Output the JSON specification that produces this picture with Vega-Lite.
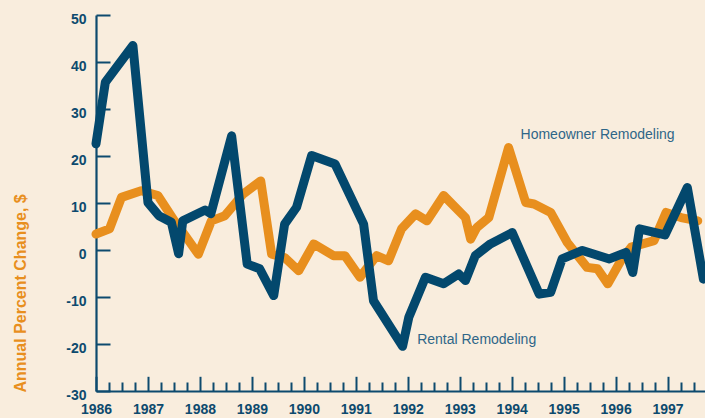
{
  "$schema": "https://vega.github.io/schema/vega-lite/v6.json",
  "width": 609,
  "height": 376,
  "autosize": {"type": "none"},
  "padding": {"left": 96, "top": 15, "right": 0, "bottom": 27},
  "background": "#f9eddd",
  "config": {"view": {"stroke": null}, "font": "Liberation Sans, Arial, sans-serif"},
  "data": {
    "values": [
      {"series": "Homeowner", "t": 1986.0, "v": 3.4},
      {"series": "Homeowner", "t": 1986.26, "v": 4.5},
      {"series": "Homeowner", "t": 1986.49, "v": 11.2},
      {"series": "Homeowner", "t": 1986.87, "v": 12.6},
      {"series": "Homeowner", "t": 1987.19, "v": 11.6},
      {"series": "Homeowner", "t": 1987.51, "v": 6.2},
      {"series": "Homeowner", "t": 1987.74, "v": 2.7},
      {"series": "Homeowner", "t": 1987.97, "v": -0.9},
      {"series": "Homeowner", "t": 1988.22, "v": 6.2},
      {"series": "Homeowner", "t": 1988.48, "v": 7.3},
      {"series": "Homeowner", "t": 1988.83, "v": 11.9},
      {"series": "Homeowner", "t": 1989.17, "v": 14.7},
      {"series": "Homeowner", "t": 1989.38, "v": -0.9},
      {"series": "Homeowner", "t": 1989.63, "v": -1.6},
      {"series": "Homeowner", "t": 1989.9, "v": -4.4},
      {"series": "Homeowner", "t": 1990.19, "v": 1.3},
      {"series": "Homeowner", "t": 1990.57, "v": -1.2},
      {"series": "Homeowner", "t": 1990.79, "v": -1.2},
      {"series": "Homeowner", "t": 1991.08, "v": -5.8},
      {"series": "Homeowner", "t": 1991.4, "v": -1.2},
      {"series": "Homeowner", "t": 1991.63, "v": -2.3},
      {"series": "Homeowner", "t": 1991.88, "v": 4.5},
      {"series": "Homeowner", "t": 1992.15, "v": 7.7},
      {"series": "Homeowner", "t": 1992.37, "v": 6.2},
      {"series": "Homeowner", "t": 1992.69, "v": 11.6},
      {"series": "Homeowner", "t": 1993.11, "v": 6.9},
      {"series": "Homeowner", "t": 1993.21, "v": 2.3},
      {"series": "Homeowner", "t": 1993.33, "v": 4.8},
      {"series": "Homeowner", "t": 1993.56, "v": 6.9},
      {"series": "Homeowner", "t": 1993.94, "v": 21.8},
      {"series": "Homeowner", "t": 1994.27, "v": 10.1},
      {"series": "Homeowner", "t": 1994.43, "v": 9.8},
      {"series": "Homeowner", "t": 1994.75, "v": 8.0},
      {"series": "Homeowner", "t": 1995.07, "v": 1.6},
      {"series": "Homeowner", "t": 1995.45, "v": -3.7},
      {"series": "Homeowner", "t": 1995.65, "v": -4.0},
      {"series": "Homeowner", "t": 1995.85, "v": -7.2},
      {"series": "Homeowner", "t": 1996.1, "v": -2.3},
      {"series": "Homeowner", "t": 1996.3, "v": 0.6},
      {"series": "Homeowner", "t": 1996.74, "v": 2.0},
      {"series": "Homeowner", "t": 1996.97, "v": 8.0},
      {"series": "Homeowner", "t": 1997.26, "v": 6.9},
      {"series": "Homeowner", "t": 1997.58, "v": 6.2},
      {"series": "Rental", "t": 1986.0, "v": 22.6},
      {"series": "Rental", "t": 1986.18, "v": 35.7},
      {"series": "Rental", "t": 1986.71, "v": 43.5},
      {"series": "Rental", "t": 1987.0, "v": 10.1},
      {"series": "Rental", "t": 1987.21, "v": 7.3},
      {"series": "Rental", "t": 1987.45, "v": 5.9},
      {"series": "Rental", "t": 1987.59, "v": -0.8},
      {"series": "Rental", "t": 1987.67, "v": 6.2},
      {"series": "Rental", "t": 1988.1, "v": 8.5},
      {"series": "Rental", "t": 1988.21, "v": 7.7},
      {"series": "Rental", "t": 1988.61, "v": 24.3},
      {"series": "Rental", "t": 1988.91, "v": -3.0},
      {"series": "Rental", "t": 1989.15, "v": -4.0},
      {"series": "Rental", "t": 1989.42, "v": -9.7},
      {"series": "Rental", "t": 1989.63, "v": 5.5},
      {"series": "Rental", "t": 1989.86, "v": 9.1},
      {"series": "Rental", "t": 1990.15, "v": 20.1},
      {"series": "Rental", "t": 1990.6, "v": 18.3},
      {"series": "Rental", "t": 1991.15, "v": 5.5},
      {"series": "Rental", "t": 1991.34, "v": -10.8},
      {"series": "Rental", "t": 1991.9, "v": -20.5},
      {"series": "Rental", "t": 1992.02, "v": -14.3},
      {"series": "Rental", "t": 1992.34, "v": -5.8},
      {"series": "Rental", "t": 1992.69, "v": -7.2},
      {"series": "Rental", "t": 1992.98, "v": -5.1},
      {"series": "Rental", "t": 1993.11, "v": -6.5},
      {"series": "Rental", "t": 1993.3, "v": -1.2},
      {"series": "Rental", "t": 1993.59, "v": 1.3},
      {"series": "Rental", "t": 1994.01, "v": 3.7},
      {"series": "Rental", "t": 1994.53, "v": -9.4},
      {"series": "Rental", "t": 1994.75, "v": -9.0},
      {"series": "Rental", "t": 1994.97, "v": -1.9},
      {"series": "Rental", "t": 1995.36, "v": -0.1},
      {"series": "Rental", "t": 1995.88, "v": -1.9},
      {"series": "Rental", "t": 1996.2, "v": -0.5},
      {"series": "Rental", "t": 1996.33, "v": -4.8},
      {"series": "Rental", "t": 1996.46, "v": 4.5},
      {"series": "Rental", "t": 1996.95, "v": 3.2},
      {"series": "Rental", "t": 1997.38, "v": 13.3},
      {"series": "Rental", "t": 1997.69, "v": -6.2}
    ]
  },
  "encoding": {
    "x": {
      "field": "t",
      "type": "quantitative",
      "scale": {"domain": [1986, 1997.72], "nice": false, "zero": false},
      "axis": {
        "values": [1986,1986.25,1986.5,1986.75,1987,1987.25,1987.5,1987.75,1988,1988.25,1988.5,1988.75,1989,1989.25,1989.5,1989.75,1990,1990.25,1990.5,1990.75,1991,1991.25,1991.5,1991.75,1992,1992.25,1992.5,1992.75,1993,1993.25,1993.5,1993.75,1994,1994.25,1994.5,1994.75,1995,1995.25,1995.5,1995.75,1996,1996.25,1996.5,1996.75,1997,1997.25,1997.5],
        "labelExpr": "datum.value % 1 === 0 ? toString(datum.value) : ''",
        "tickSize": -14.7,
        "tickWidth": 2,
        "tickColor": "#0d4a6e",
        "tickDash": {"condition": {"test": "datum.value % 1 !== 0", "value": [9, 40]}, "value": [40, 0]},
        "domainColor": "#0d4a6e",
        "domainWidth": 2.2,
        "labelFontSize": 14,
        "labelFontWeight": "bold",
        "labelColor": "#0d4a6e",
        "labelPadding": 26,
        "labelOverlap": false,
        "labelFlush": false,
        "grid": false,
        "title": null
      }
    },
    "y": {
      "field": "v",
      "type": "quantitative",
      "scale": {"domain": [-30, 50], "nice": false, "zero": false},
      "axis": {
        "values": [-30, -20, -10, 0, 10, 20, 30, 40, 50],
        "labelExpr": "toString(datum.value)",
        "tickSize": -14,
        "tickWidth": 2,
        "tickColor": "#0d4a6e",
        "domainColor": "#0d4a6e",
        "domainWidth": 2.2,
        "labelFontSize": 14,
        "labelFontWeight": "bold",
        "labelColor": "#0d4a6e",
        "labelPadding": 24,
        "labelOffset": 4.5,
        "labelFlush": false,
        "labelOverlap": false,
        "grid": false,
        "title": "Annual Percent Change, $",
        "titleColor": "#e88f1e",
        "titleFontSize": 16,
        "titleFontWeight": "bold",
        "titleAngle": 270,
        "titleAlign": "left",
        "titleBaseline": "middle",
        "titleX": -76,
        "titleY": 377
      }
    }
  },
  "layer": [
    {
      "transform": [{"filter": "datum.series === 'Homeowner'"}],
      "mark": {"type": "line", "color": "#e88f1e", "strokeWidth": 9, "strokeCap": "round", "strokeJoin": "round", "clip": false}
    },
    {
      "transform": [{"filter": "datum.series === 'Rental'"}],
      "mark": {"type": "line", "color": "#03486d", "strokeWidth": 9, "strokeCap": "round", "strokeJoin": "round", "clip": false}
    },
    {
      "data": {
        "values": [
          {"label": "Homeowner Remodeling", "t": 1994.17, "v": 24.5},
          {"label": "Rental Remodeling", "t": 1992.18, "v": -19.1}
        ]
      },
      "mark": {"type": "text", "align": "left", "baseline": "middle", "fontSize": 14, "color": "#2f6688"},
      "encoding": {
        "text": {"field": "label", "type": "nominal"}
      }
    }
  ]
}
